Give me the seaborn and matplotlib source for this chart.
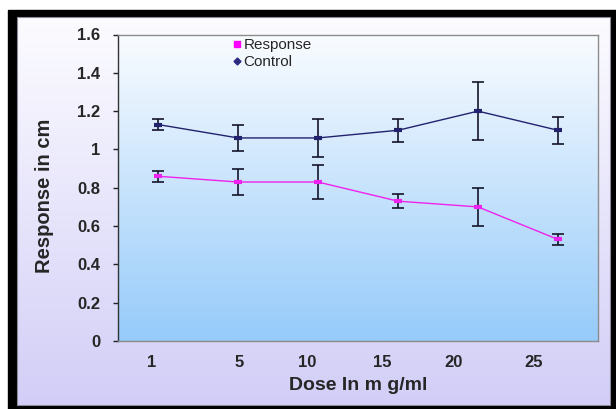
import numpy as np
import pandas as pd
import matplotlib
matplotlib.use("Agg")
import matplotlib.pyplot as plt
from matplotlib.patches import Rectangle
from matplotlib.lines import Line2D
from matplotlib.ticker import FuncFormatter
import seaborn as sns

# 数据
doses = ["1", "5", "10", "15", "20", "25"]
response = [0.86, 0.83, 0.83, 0.73, 0.70, 0.53]
response_err = [0.03, 0.07, 0.09, 0.035, 0.10, 0.03]
control = [1.13, 1.06, 1.06, 1.10, 1.20, 1.10]
control_err = [0.03, 0.07, 0.10, 0.06, 0.15, 0.07]

# 版式
W, H = 616, 409
label_pos = [-0.08, 1.02, 1.87, 2.80, 3.69, 4.70]  # x轴标签位置 (原图标签没有对齐数据点)
c_resp = "#ee22ee"
c_ctrl = "#22226e"
c_err = "#15152a"

sns.set_style("white")
plt.rcParams['font.family'] = ['Liberation Sans', 'DejaVu Sans']

pos = np.arange(len(doses))
df = pd.DataFrame({
    'pos': np.concatenate([pos, pos]),
    'value': response + control,
    'err': response_err + control_err,
    'series': ['Response'] * len(doses) + ['Control'] * len(doses),
})

fig = plt.figure(figsize=(W / 100, H / 100), dpi=100)

# 背景: 黑色边框 + 淡紫色渐变
bg = fig.add_axes([0, 0, 1, 1], zorder=-10)
bg.set_xlim(0, W)
bg.set_ylim(H, 0)
bg.axis('off')
bg.add_patch(Rectangle((8, 10), W - 8, H - 10, color='black'))
grad = np.linspace(0, 1, 256)[:, None, None]
top = np.array([252, 252, 255]) / 255
bottom = np.array([210, 206, 247]) / 255
bg_img = top + (bottom - top) * grad
bg.imshow(bg_img, extent=(17, 610, 405, 17), aspect='auto', origin='upper', zorder=1)
bg.add_patch(Rectangle((17, 17), 593, 388, fill=False, edgecolor='#8a8a9a', lw=0.8, zorder=2))

# 绘图区
ax = fig.add_axes([118 / W, 1 - 341 / H, 480 / W, 306.5 / H])
ax.set_facecolor('none')
ptop = np.array([250, 252, 255]) / 255
pbottom = np.array([150, 203, 250]) / 255
plot_img = ptop + (pbottom - ptop) * grad
ax.imshow(plot_img, extent=(-0.5, 5.5, 0, 1.6), aspect='auto', origin='upper', zorder=0)

for name, color in [('Control', c_ctrl), ('Response', c_resp)]:
    sub = df[df['series'] == name]
    ax.errorbar(sub['pos'], sub['value'], yerr=sub['err'], fmt='none', ecolor=c_err,
                elinewidth=1.2, capsize=4.3, capthick=1.2, zorder=2)
    sns.lineplot(data=sub, x='pos', y='value', color=color, lw=1.0, ax=ax,
                 marker='_', markersize=6, markeredgewidth=3,
                 markeredgecolor=color, zorder=3)

ax.set_xlim(-0.5, 5.5)
ax.set_ylim(0, 1.6)
ax.set_yticks(np.arange(0, 1.61, 0.2))
ax.yaxis.set_major_formatter(FuncFormatter(lambda v, p: f'{v:g}'))
ax.set_xticks(label_pos)
ax.set_xticklabels(doses)
ax.tick_params(axis='x', length=0, pad=10, labelsize=12)
ax.tick_params(axis='y', length=3.6, width=1, color='#222222', direction='out',
               pad=9, labelsize=12, left=True)
for lab in ax.get_xticklabels() + ax.get_yticklabels():
    lab.set_fontweight('bold')

for side in ['top', 'right', 'bottom']:
    ax.spines[side].set_color('#8c8c8c')
    ax.spines[side].set_linewidth(1)
ax.spines['left'].set_color('#333333')
ax.spines['left'].set_linewidth(1)

ax.set_xlabel('Dose In m g/ml', fontsize=14, fontweight='bold', va='center')
ax.xaxis.set_label_coords(0.5, (341 - 385) / 306.5)
ax.set_ylabel('Response in cm', fontsize=14.5, fontweight='bold', va='center')
ax.yaxis.set_label_coords((45 - 118) / 480, (341 - 196) / 306.5)

handles = [
    Line2D([], [], color='#ff00ff', marker='s', linestyle='none', markersize=4),
    Line2D([], [], color='#2a2a80', marker='D', linestyle='none', markersize=3.5),
]
ax.legend(handles, ['Response', 'Control'], loc='upper left', frameon=False,
          fontsize=11, handlelength=0.6, handletextpad=0.15, labelspacing=0.2,
          borderpad=0, borderaxespad=0,
          bbox_to_anchor=(232 / W, 1 - 38 / H), bbox_transform=fig.transFigure)

fig.savefig('out.png', dpi=100)
